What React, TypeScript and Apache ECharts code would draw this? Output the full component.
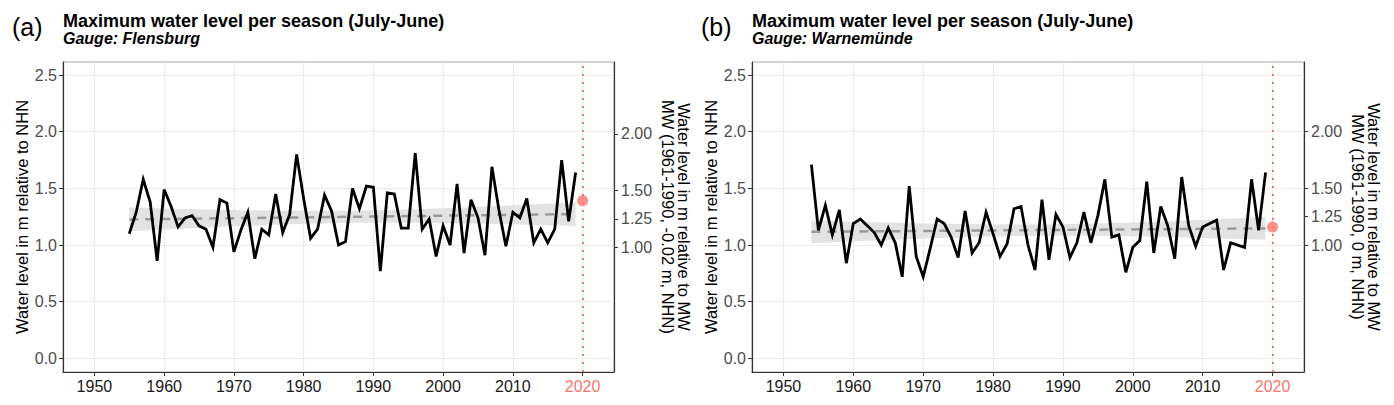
import React, { useEffect, useRef } from "react";
import * as echarts from "echarts";

const FONT = '"Liberation Sans", Arial, sans-serif';

// ---------- data ----------
const flensburgStart = 1955;
const flensburgValues = [
  1.10, 1.29, 1.58, 1.38, 0.86, 1.49, 1.34, 1.16, 1.24, 1.26,
  1.17, 1.14, 0.98, 1.40, 1.37, 0.94, 1.13, 1.29, 0.88, 1.14,
  1.09, 1.45, 1.11, 1.27, 1.80, 1.41, 1.06, 1.14, 1.44, 1.30,
  1.00, 1.03, 1.50, 1.32, 1.52, 1.51, 0.77, 1.46, 1.45, 1.15,
  1.15, 1.81, 1.14, 1.23, 0.90, 1.17, 1.00, 1.54, 0.93, 1.40,
  1.24, 0.91, 1.69, 1.31, 0.99, 1.29, 1.24, 1.41, 1.02, 1.14,
  1.02, 1.14, 1.75, 1.21, 1.64,
];
const warnemuendeStart = 1954;
const warnemuendeValues = [
  1.71, 1.13, 1.35, 1.09, 1.31, 0.84, 1.19, 1.23, 1.17, 1.11,
  1.00, 1.15, 1.02, 0.72, 1.52, 0.90, 0.72, 0.97, 1.23, 1.19,
  1.07, 0.89, 1.30, 0.93, 1.02, 1.29, 1.10, 0.90, 1.01, 1.32,
  1.34, 1.00, 0.78, 1.40, 0.87, 1.27, 1.16, 0.89, 1.02, 1.29,
  1.02, 1.26, 1.58, 1.07, 1.09, 0.76, 0.98, 1.04, 1.56, 0.93,
  1.34, 1.17, 0.88, 1.60, 1.17, 0.99, 1.16, 1.19, 1.22, 0.78,
  1.02, 1.00, 0.98, 1.58, 1.13, 1.64,
];

// current season point (2020)
const flensburgCurrent = [2020, 1.39];
const warnemuendeCurrent = [2020, 1.16];

// linear trend (start / end)
const flensburgTrend = [[1955, 1.226], [2019, 1.273]];
const warnemuendeTrend = [[1954, 1.117], [2019, 1.147]];

// confidence band of the trend
const flensburgBandYears = [1955, 1963, 1971, 1979, 1987, 1995, 2003, 2011, 2019];
const flensburgBandLow = [1.121, 1.146, 1.168, 1.186, 1.197, 1.197, 1.191, 1.181, 1.168];
const flensburgBandHigh = [1.331, 1.318, 1.308, 1.302, 1.302, 1.313, 1.331, 1.353, 1.378];
const warnemuendeBandYears = [1954, 1962, 1970, 1978, 1986.5, 1995, 2003, 2011, 2019];
const warnemuendeBandLow = [1.017, 1.039, 1.058, 1.073, 1.082, 1.081, 1.074, 1.061, 1.047];
const warnemuendeBandHigh = [1.217, 1.203, 1.190, 1.183, 1.182, 1.191, 1.206, 1.225, 1.247];

// ticks
const xTicks = [1950, 1960, 1970, 1980, 1990, 2000, 2010, 2020];
const yTicks = [0, 0.5, 1.0, 1.5, 2.0, 2.5];
const secTicks = [1.0, 1.25, 1.5, 2.0];

const panels = [
  {
    tag: "(a)",
    title: "Maximum water level per season (July-June)",
    subtitle: "Gauge: Flensburg",
    secTitle1: "Water level in m relative to MW",
    secTitle2: "MW (1961-1990, -0.02 m, NHN)",
    secOffset: 0.02,
    start: flensburgStart,
    values: flensburgValues,
    current: flensburgCurrent,
    trend: flensburgTrend,
    bandYears: flensburgBandYears,
    bandLow: flensburgBandLow,
    bandHigh: flensburgBandHigh,
  },
  {
    tag: "(b)",
    title: "Maximum water level per season (July-June)",
    subtitle: "Gauge: Warnemünde",
    secTitle1: "Water level in m relative to MW",
    secTitle2: "MW (1961-1990, 0 m, NHN)",
    secOffset: 0,
    start: warnemuendeStart,
    values: warnemuendeValues,
    current: warnemuendeCurrent,
    trend: warnemuendeTrend,
    bandYears: warnemuendeBandYears,
    bandLow: warnemuendeBandLow,
    bandHigh: warnemuendeBandHigh,
  },
];

const GRID_LEFT = [63, 752];
const GRID_W = [551, 552];
const GRID_TOP = 62;
const GRID_H = 310;
const Y_MIN = -0.12;
const Y_MAX = 2.615;
const AXIS_COLOR = "#333333";
const RED = "#F8766D";

function buildOption() {
  const grid: any[] = [];
  const xAxis: any[] = [];
  const yAxis: any[] = [];
  const series: any[] = [];
  const graphic: any[] = [];

  panels.forEach((p, i) => {
    grid.push({
      left: GRID_LEFT[i],
      top: GRID_TOP,
      width: GRID_W[i],
      height: GRID_H,
      show: true,
      borderColor: "#A8A8A8",
      borderWidth: 1,
      backgroundColor: "transparent",
      containLabel: false,
      outerBoundsMode: "none",
    });
    xAxis.push({
      type: "value",
      gridIndex: i,
      min: 1945.5,
      max: 2024.5,
      splitNumber: 8,
      axisLine: { show: true, onZero: false, lineStyle: { color: AXIS_COLOR, width: 1.2 } },
      axisTick: { show: true, length: 4, customValues: xTicks, lineStyle: { color: AXIS_COLOR } },
      axisLabel: {
        customValues: xTicks,
        margin: 6,
        fontSize: 16,
        fontFamily: FONT,
        color: (v: any) => (Number(v) === 2020 ? RED : "#1A1A1A"),
        formatter: (v: number) => String(Math.round(v)),
      },
      splitLine: { show: true, lineStyle: { color: "#EBEBEB", width: 1.2 } },
    });
    yAxis.push({
      type: "value",
      gridIndex: i,
      min: Y_MIN,
      max: Y_MAX,
      splitNumber: 5,
      axisLine: { show: true, onZero: false, lineStyle: { color: AXIS_COLOR, width: 1.2 } },
      axisTick: { show: true, length: 4, customValues: yTicks, lineStyle: { color: AXIS_COLOR } },
      axisLabel: {
        customValues: yTicks,
        margin: 6,
        fontSize: 16,
        fontFamily: FONT,
        color: "#4D4D4D",
        formatter: (v: number) => v.toFixed(1),
      },
      splitLine: { show: true, lineStyle: { color: "#EBEBEB", width: 1.2 } },
    });
    yAxis.push({
      type: "value",
      gridIndex: i,
      position: "right",
      min: Y_MIN + p.secOffset,
      max: Y_MAX + p.secOffset,
      splitNumber: 5,
      axisLine: { show: true, onZero: false, lineStyle: { color: AXIS_COLOR, width: 1.2 } },
      axisTick: { show: true, length: 4, customValues: secTicks, lineStyle: { color: AXIS_COLOR } },
      axisLabel: {
        customValues: secTicks,
        margin: 7,
        fontSize: 16,
        fontFamily: FONT,
        color: "#4D4D4D",
        formatter: (v: number) => v.toFixed(2),
      },
      splitLine: { show: false },
    });

    const yLeft = i * 2;
    const bandYears = p.bandYears;
    const bandLow = p.bandLow;
    const bandHigh = p.bandHigh;
    series.push({
      type: "custom",
      xAxisIndex: i,
      yAxisIndex: yLeft,
      silent: true,
      z: 1,
      data: [[bandYears[0], bandLow[0]]],
      renderItem: (_params: any, api: any) => {
        const pts: number[][] = [];
        for (let k = 0; k < bandYears.length; k++) pts.push(api.coord([bandYears[k], bandHigh[k]]));
        for (let k = bandYears.length - 1; k >= 0; k--) pts.push(api.coord([bandYears[k], bandLow[k]]));
        return { type: "polygon", shape: { points: pts }, style: { fill: "#E3E3E3" } };
      },
    });
    series.push({
      type: "line",
      xAxisIndex: i,
      yAxisIndex: yLeft,
      symbol: "none",
      silent: true,
      lineStyle: { color: "#9A9A9A", width: 2.5, type: [9, 7] },
      data: p.trend,
      z: 2,
    });
    series.push({
      type: "line",
      xAxisIndex: i,
      yAxisIndex: yLeft,
      symbol: "none",
      silent: true,
      lineStyle: { color: "#000000", width: 2.8, join: "miter" },
      data: p.values.map((v, k) => [p.start + k, v]),
      z: 3,
    });
    series.push({
      type: "scatter",
      xAxisIndex: i,
      yAxisIndex: yLeft,
      symbolSize: 11,
      itemStyle: { color: RED },
      data: [p.current],
      z: 4,
      markLine: {
        silent: true,
        symbol: ["none", "none"],
        label: { show: false },
        lineStyle: { color: RED, width: 2, type: [2, 6] },
        data: [{ xAxis: 2020 }],
      },
    });

    const gl = GRID_LEFT[i];
    const gr = gl + GRID_W[i];
    const cy = GRID_TOP + GRID_H / 2;
    graphic.push(
      {
        type: "text",
        x: gl - 51,
        y: 27,
        style: { text: p.tag, font: `25px ${FONT}`, fill: "#000", textAlign: "left", textVerticalAlign: "middle" },
      },
      {
        type: "text",
        x: gl,
        y: 21,
        style: { text: p.title, font: `bold 18px ${FONT}`, fill: "#000", textAlign: "left", textVerticalAlign: "middle" },
      },
      {
        type: "text",
        x: gl,
        y: 38,
        style: { text: p.subtitle, font: `italic bold 16px ${FONT}`, fill: "#000", textAlign: "left", textVerticalAlign: "middle" },
      },
      {
        type: "text",
        x: gl - 41.5,
        y: cy,
        rotation: Math.PI / 2,
        style: { text: "Water level in m relative to NHN", font: `16.5px ${FONT}`, fill: "#000", textAlign: "center", textVerticalAlign: "middle" },
      },
      {
        type: "text",
        x: gr + 70,
        y: cy,
        rotation: -Math.PI / 2,
        style: { text: p.secTitle1, font: `16.5px ${FONT}`, fill: "#000", textAlign: "center", textVerticalAlign: "middle" },
      },
      {
        type: "text",
        x: gr + 53.5,
        y: cy,
        rotation: -Math.PI / 2,
        style: { text: p.secTitle2, font: `16.5px ${FONT}`, fill: "#000", textAlign: "center", textVerticalAlign: "middle" },
      }
    );
  });

  return {
    animation: false,
    backgroundColor: "#FFFFFF",
    textStyle: { fontFamily: FONT },
    grid,
    xAxis,
    yAxis,
    series,
    graphic,
  };
}

export default function App() {
  const ref = useRef<HTMLDivElement>(null);
  useEffect(() => {
    if (!ref.current) return;
    const chart = echarts.init(ref.current, null, { renderer: "svg" });
    chart.setOption(buildOption() as any);
    return () => chart.dispose();
  }, []);
  return (
    <div
      ref={ref}
      style={{ position: "fixed", left: 0, top: 0, width: 1394, height: 405, background: "#fff" }}
    />
  );
}
